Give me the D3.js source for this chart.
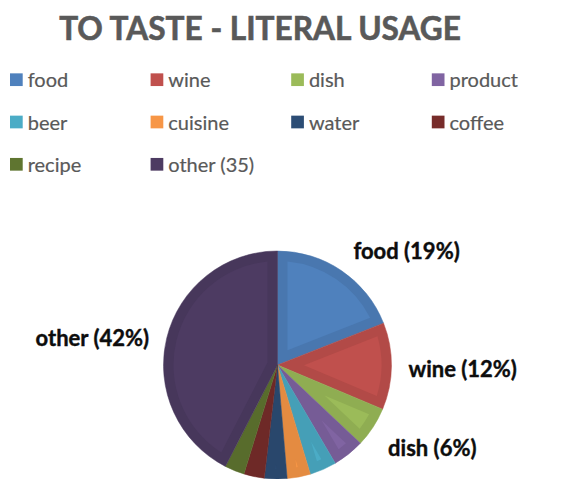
<!DOCTYPE html>
<html>
<head>
<meta charset="utf-8">
<script src="https://cdn.jsdelivr.net/npm/d3@7/dist/d3.min.js"></script>
<style>
  html, body { margin: 0; padding: 0; background: #ffffff; }
  svg { display: block; }
</style>
</head>
<body>
<svg id="chart" width="570" height="479"></svg>
<script>
// Collocates of "to taste" (literal sense), share of occurrences in percent
const categories = ["food", "wine", "dish", "product", "beer", "cuisine", "water", "coffee", "recipe", "other (35)"];
const shares     = [19.0,   12.3,   5.7,    4.5,       3.8,    3.3,       3.2,     2.9,      2.8,      42.4];
const colors     = ["#4f81bd", "#c0504d", "#9bbb59", "#8064a2", "#4bacc6", "#f79646", "#2c4d75", "#772c2a", "#5f7530", "#4d3b62"];
const title = "TO TASTE - LITERAL USAGE";

const data = categories.map((c, i) => ({ name: c, value: shares[i], color: colors[i] }));
const total = d3.sum(shares);

const svg = d3.select("#chart");

// Title
svg.append("text")
  .attr("x", 260).attr("y", 40)
  .attr("text-anchor", "middle")
  .attr("font-family", "Lato, 'Open Sans', sans-serif")
  .attr("font-weight", 700)
  .attr("font-size", 31.6)
  .attr("fill", "#595959")
  .attr("stroke", "#595959")
  .attr("stroke-width", 0.6)
  .text(title);

// Legend: four columns, three rows
const legendCols = 4, colW = 140.6, rowH = 42.3, lx0 = 10, ly0 = 79.7, sw = 12.7;
const legend = svg.append("g").attr("class", "legend");
const item = legend.selectAll("g").data(data).join("g")
  .attr("transform", (d, i) => `translate(${lx0 + (i % legendCols) * colW},${ly0 + Math.floor(i / legendCols) * rowH})`);
item.append("rect")
  .attr("x", 0).attr("y", -sw / 2)
  .attr("width", sw).attr("height", sw)
  .attr("fill", d => d.color);
item.append("text")
  .attr("x", sw + 5).attr("y", 7.6)
  .attr("font-family", "Lato, 'Open Sans', sans-serif")
  .attr("font-size", 20)
  .attr("fill", "#595959")
  .attr("stroke", "#595959")
  .attr("stroke-width", 0.2)
  .text(d => d.name);

// Pie
const cx = 277.5, cy = 365, r = 114, inset = 10;
const pie = d3.pie().value(d => d.value).sort(null);
const arcs = pie(data);
const arc = d3.arc().innerRadius(0).outerRadius(r);

const g = svg.append("g").attr("transform", `translate(${cx},${cy})`);

// Outer slice, a shade darker: forms the bevel rim
g.selectAll("path.rim").data(arcs).join("path")
  .attr("class", "rim")
  .attr("d", arc)
  .attr("fill", d => d3.color(d.data.color).darker(0.22))
  .attr("stroke", d => d3.color(d.data.color).darker(0.22))
  .attr("stroke-width", 0.5);

// Inset face of each slice (the lighter bevel top)
function insetPath(d) {
  const a0 = d.startAngle, a1 = d.endAngle;
  const half = (a1 - a0) / 2;
  const ro = r - inset;
  const apex = half < Math.PI / 2 ? inset / Math.sin(half) : inset;
  if (apex >= ro - 4) return null;
  const mid = (a0 + a1) / 2;
  const da = Math.asin(inset / ro);
  const s = a0 + da, e = a1 - da;
  if (e <= s) return null;
  const p = d3.path();
  p.moveTo(apex * Math.sin(mid), -apex * Math.cos(mid));
  p.lineTo(ro * Math.sin(s), -ro * Math.cos(s));
  p.arc(0, 0, ro, s - Math.PI / 2, e - Math.PI / 2);
  p.closePath();
  return p.toString();
}
g.selectAll("path.face").data(arcs.filter(d => insetPath(d))).join("path")
  .attr("class", "face")
  .attr("d", insetPath)
  .attr("fill", d => d.data.color);

// Data labels outside the larger slices: side-anchored, lifted above or
// dropped below the slice when it points mostly up or down
const labelR = r + 12;
g.selectAll("text.lbl").data(arcs.filter(d => d.data.value / total >= 0.05)).join("text")
  .attr("class", "lbl")
  .attr("font-family", "Lato, 'Open Sans', sans-serif")
  .attr("font-weight", 700)
  .attr("font-size", 22)
  .attr("fill", "#0d0d0d")
  .attr("stroke", "#0d0d0d")
  .attr("stroke-width", 0.4)
  .attr("text-anchor", d => Math.sin((d.startAngle + d.endAngle) / 2) >= 0 ? "start" : "end")
  .attr("x", d => {
    const m = (d.startAngle + d.endAngle) / 2;
    return labelR * Math.sin(m) + (Math.sin(m) >= 0 ? 5 : -6);
  })
  .attr("y", d => {
    const m = (d.startAngle + d.endAngle) / 2;
    const cs = Math.cos(m);
    const c = Math.sign(cs) * Math.max(0, Math.min(1, (Math.abs(cs) - 0.25) * 4));
    return -labelR * cs - c * 12 + 3;
  })
  .attr("dy", "0.33em")
  .text(d => `${d.data.name.replace(/ \(\d+\)$/, "")} (${Math.round(d.data.value / total * 100)}%)`);
</script>
</body>
</html>
